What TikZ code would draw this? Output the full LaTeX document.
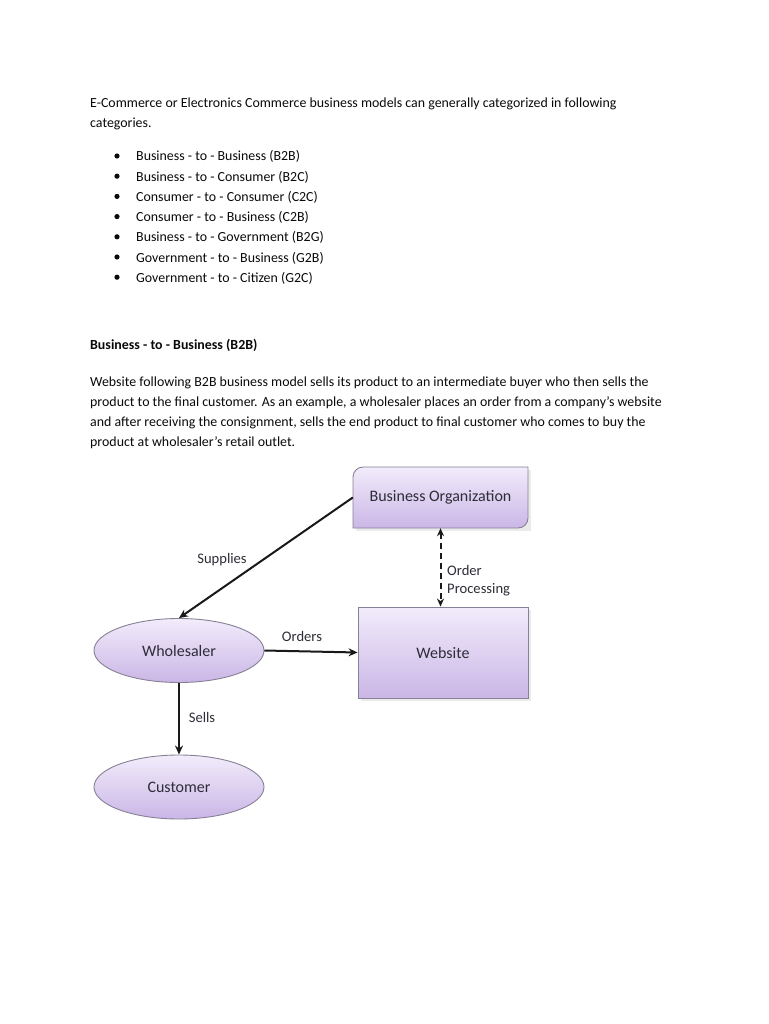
\documentclass[tikz,border=0pt]{standalone}
\usepackage{fontspec}
\setmainfont{Carlito}
\usetikzlibrary{arrows.meta,shapes.geometric}
\definecolor{fillTop}{RGB}{242,236,251}
\definecolor{fillBot}{RGB}{202,182,230}
\definecolor{edgeC}{RGB}{135,128,150}
\definecolor{txt}{RGB}{10,10,10}
\definecolor{dtxt}{RGB}{45,45,55}
\tikzset{
  bodytext/.style={anchor=base west,inner sep=0pt,font=\fontsize{13.9}{20}\selectfont,text=txt},
  boldtext/.style={bodytext,font=\fontsize{13.9}{20}\selectfont\bfseries},
  shapefill/.style={top color=fillTop,bottom color=fillBot,draw=edgeC,line width=0.9pt},
  ellnode/.style={ellipse,shapefill,minimum width=170pt,minimum height=64pt,inner sep=0pt,font=\fontsize{16}{18}\selectfont,text=dtxt},
  boxlabel/.style={inner sep=0pt,font=\fontsize{16}{18}\selectfont,text=dtxt},
  edgelabel/.style={inner sep=0pt,font=\fontsize{14.6}{18}\selectfont,text=dtxt},
  conn/.style={line width=2pt,-{Stealth[length=9pt,width=8pt]},black!90},
}
\begin{document}
\begin{tikzpicture}[x=1pt,y=1pt]
\fill[white] (0,0) rectangle (768,-1024);
\useasboundingbox (0,0) rectangle (768,-1024);

% intro text
\node[bodytext] (l1) at (90,-108) {E-Commerce or Electronics Commerce business models can generally categorized in following};
\node[bodytext] (l2) at (90,-128) {categories.};

\foreach \t [count=\i] in {Business - to - Business (B2B),Business - to - Consumer (B2C),Consumer - to - Consumer (C2C),Consumer - to - Business (C2B),Business - to - Government (B2G),Government - to - Business (G2B),Government - to - Citizen (G2C)}{
  \node[bodytext] (b\i) at (136,{-161-20.2*(\i-1)}) {\t};
  \fill[txt] (117,{-156-20.2*(\i-1)}) circle (2.6pt);
}

\node[boldtext] (h1) at (90,-349) {Business - to - Business (B2B)};

\node[bodytext] (p1) at (90,-386) {Website following B2B business model sells its product to an intermediate buyer who then sells the};
\node[bodytext] (p2) at (90,-406) {product to the final customer. As an example, a wholesaler places an order from a company's website};
\node[bodytext] (p3) at (90,-426) {and after receiving the consignment, sells the end product to final customer who comes to buy the};
\node[bodytext] (p4) at (90,-446) {product at wholesaler's retail outlet.};

% shadows
\fill[black!8] (356,-531) rectangle (531,-470);
\fill[black!8] (361,-701) rectangle (531,-610);

% Business Organization box (rounded top-left and bottom-right)
\path[shapefill] (353,-528) -- (353,-477) arc[start angle=180,end angle=90,radius=10] -- (528,-467) -- (528,-518) arc[start angle=0,end angle=-90,radius=10] -- cycle;
\node[boxlabel,minimum width=175pt,minimum height=61pt] (bo) at (440.5,-497.5) {Business Organization};

% Website box
\node[rectangle,shapefill,minimum width=170pt,minimum height=91pt,inner sep=0pt,font=\fontsize{16}{18}\selectfont,text=dtxt] (web) at (443,-652.5) {Website};

% ellipses
\node[ellnode] (whole) at (179,-650.5) {Wholesaler};
\node[ellnode] (cust) at (179,-787) {Customer};

% connectors
\draw[conn] (bo.west) -- (whole.north);
\draw[conn,{Stealth[length=8pt,width=7pt]}-{Stealth[length=8pt,width=7pt]},dash pattern=on 6pt off 4pt] (bo.south) -- (web.north -| bo.south);
\draw[conn] (whole.east) -- (web.west);
\draw[conn] (whole.south) -- (cust.north);

% labels
\node[edgelabel] (lsup) at (222,-560) {Supplies};
\node[edgelabel,anchor=base west] (lord1) at (447,-575) {Order};
\node[edgelabel,anchor=base west] (lord2) at (447,-593) {Processing};
\node[edgelabel] (lords) at (302,-636) {Orders};
\node[edgelabel] (lsell) at (202,-717) {Sells};
\end{tikzpicture}
\end{document}
